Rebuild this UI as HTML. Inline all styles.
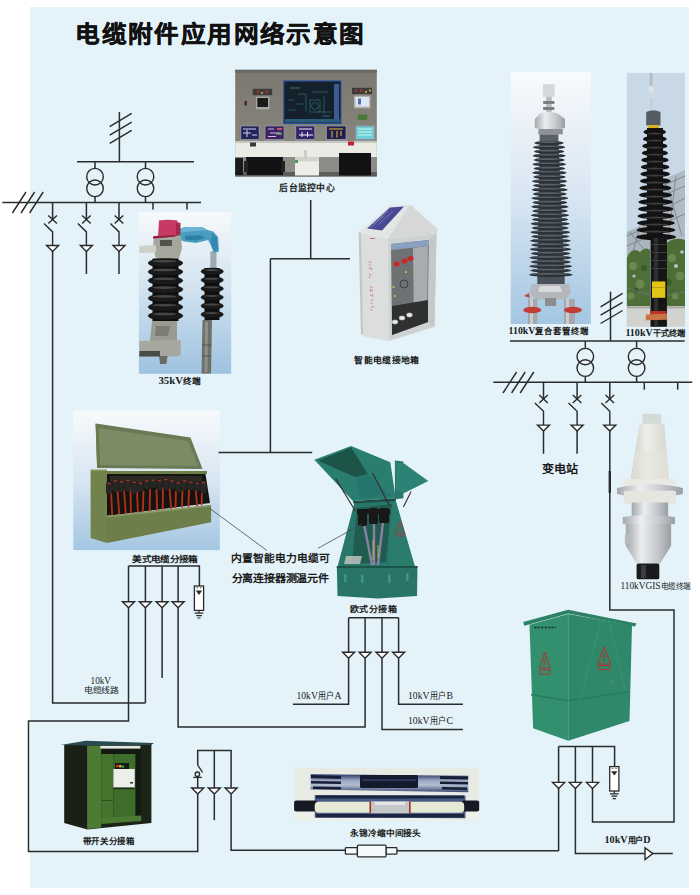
<!DOCTYPE html>
<html lang="zh-CN">
<head>
<meta charset="utf-8">
<style>
html,body{margin:0;padding:0;background:#fff;}
body{width:700px;height:895px;position:relative;overflow:hidden;}
#panel{position:absolute;left:30px;top:7px;width:659px;height:881px;background:#e3f3f9;}
svg{position:absolute;left:0;top:0;}
.t{font-family:"Liberation Serif",serif;font-weight:bold;fill:#1a1a1a;}
</style>
</head>
<body>
<div id="panel"></div>
<svg width="700" height="895" viewBox="0 0 700 895">
<defs>
  <g id="trafo" fill="none" stroke="#2a2a2a" stroke-width="1.4">
    <circle cx="0" cy="0" r="8.3"/>
    <circle cx="0" cy="11.6" r="8.3"/>
  </g>
  <g id="tri"><path d="M-6,0 L6,0 L0,6 Z" fill="#fff" stroke="#2a2a2a" stroke-width="1.4" stroke-linejoin="miter"/></g>
  <g id="feeder" fill="none" stroke="#2a2a2a" stroke-width="1.4">
    <path d="M-4.3,-4 L4.3,4 M-4.3,4 L4.3,-4"/>
    <path d="M-8.6,4 L0,12.4 L0,26"/>
  </g>
  <g id="slash3" fill="none" stroke="#2a2a2a" stroke-width="1.4">
    <path d="M0,21 L13.6,0 M8.6,21 L22.2,0 M17.2,21 L30.8,0"/>
  </g>
  <g id="slashv" fill="none" stroke="#2a2a2a" stroke-width="1.4">
    <path d="M0,13.4 L22,0 M0,21.8 L22,8.9 M0,30.1 L22,17.1"/>
  </g>
  <g id="arrester">
    <rect x="-4.6" y="0" width="9.2" height="24.4" fill="#fff" stroke="#2a2a2a" stroke-width="1.3"/>
    <path d="M-3.2,4.6 L3.2,4.6 L0,9 Z" fill="#2a2a2a"/>
    <path d="M-2.5,1.8 L-1,1.8 M1,1.8 L2.5,1.8" stroke="#2a2a2a" stroke-width="0.8"/>
    <path d="M0,24.4 L0,27 M-4.3,27.2 L4.3,27.2 M-2.9,29.6 L2.9,29.6 M-1.6,32 L1.6,32" stroke="#2a2a2a" stroke-width="1.2" fill="none"/>
  </g>
</defs>


<!-- ===== PHOTOS ===== -->
<defs>
  <linearGradient id="gBlue" x1="0" y1="0" x2="0" y2="1">
    <stop offset="0" stop-color="#f6f9fb"/>
    <stop offset="0.45" stop-color="#d4e4f0"/>
    <stop offset="1" stop-color="#9ec2e0"/>
  </linearGradient>
  <linearGradient id="gBlue2" x1="0" y1="0" x2="0" y2="1">
    <stop offset="0" stop-color="#f8fafc"/>
    <stop offset="0.5" stop-color="#d8e6f2"/>
    <stop offset="1" stop-color="#a4c6e2"/>
  </linearGradient>
  <linearGradient id="gWall" x1="0" y1="0" x2="0" y2="1">
    <stop offset="0" stop-color="#7a786f"/>
    <stop offset="1" stop-color="#8c8a82"/>
  </linearGradient>
  <linearGradient id="gSilver" x1="0" y1="0" x2="1" y2="0">
    <stop offset="0" stop-color="#a4a8ac"/>
    <stop offset="0.35" stop-color="#eceef0"/>
    <stop offset="0.7" stop-color="#c4c8cc"/>
    <stop offset="1" stop-color="#9a9ea2"/>
  </linearGradient>
  <linearGradient id="gCone" x1="0" y1="0" x2="1" y2="0">
    <stop offset="0" stop-color="#c8c8c2"/>
    <stop offset="0.4" stop-color="#f0f0ea"/>
    <stop offset="1" stop-color="#d4d4ce"/>
  </linearGradient>
  <linearGradient id="gShed" x1="0" y1="0" x2="1" y2="0">
    <stop offset="0" stop-color="#202428"/>
    <stop offset="0.5" stop-color="#4a5058"/>
    <stop offset="1" stop-color="#202428"/>
  </linearGradient>
  <linearGradient id="gBlk" x1="0" y1="0" x2="1" y2="0">
    <stop offset="0" stop-color="#0c0c0c"/>
    <stop offset="0.45" stop-color="#3a3a3a"/>
    <stop offset="1" stop-color="#0c0c0c"/>
  </linearGradient>
</defs>

<!-- control room photo -->
<g>
  <rect x="235.2" y="69.8" width="141.6" height="106.6" fill="url(#gWall)"/>
  <rect x="235.2" y="69.8" width="141.6" height="3" fill="#6a6862"/>
  <rect x="283.2" y="80.4" width="58.3" height="43.7" fill="#2a50a0"/>
  <rect x="284.4" y="81.6" width="55.9" height="41.3" fill="#14202c"/>
  <g stroke="#3a8c80" stroke-width="0.6" fill="none" opacity="0.9">
    <path d="M298,94 H306 M312,92 H328 M296,104 H303 M318,112 H332 M306,94 V112 M324,96 V114 M288,100 H294 M288,110 H296"/>
    <path d="M310,100 h10 v12 h-10 z"/>
    <circle cx="315" cy="106" r="3.5"/>
    <path d="M290,88 H300" stroke="#70c070"/><path d="M322,116 H330" stroke="#4ca0c0"/>
  </g>
  <rect x="334" y="84" width="5" height="36" fill="#3c5c8c"/>
  <rect x="285" y="119" width="55" height="3.5" fill="#2c5c7c"/>
  <rect x="252.7" y="88.8" width="19.5" height="6.4" fill="#3e3c3a"/>
  <circle cx="258" cy="91.5" r="1" fill="#e03020"/><circle cx="262" cy="93" r="0.9" fill="#e0c020"/><circle cx="267" cy="91.5" r="1" fill="#e03020"/>
  <rect x="255.9" y="96.7" width="13.5" height="12.6" fill="#a8a8a4"/>
  <rect x="257.3" y="98" width="10.7" height="9" fill="#1a1a1a"/>
  <rect x="244.5" y="101" width="2.5" height="4.5" fill="#5a2020"/>
  <rect x="352" y="87.8" width="20" height="6.3" fill="#3e3c3a"/>
  <circle cx="356" cy="90.5" r="1" fill="#e03020"/><circle cx="361" cy="90.5" r="1" fill="#e03020"/><circle cx="366" cy="92" r="0.9" fill="#e0d020"/><circle cx="370" cy="90.5" r="0.9" fill="#f0e040"/>
  <rect x="354" y="95.6" width="16.5" height="12.7" fill="#b0b0ac"/>
  <rect x="355.4" y="97" width="13.7" height="9.6" fill="#dce8f8"/>
  <rect x="358" y="98.5" width="3" height="6" fill="#5070b0"/>
  <rect x="357.8" y="114.6" width="9.5" height="5.3" fill="#4a7a3a"/>
  <!-- monitors -->
  <g fill="#8e8e96">
    <rect x="240" y="125.2" width="19.9" height="15.8"/>
    <rect x="264.3" y="125.2" width="20.6" height="15.8"/>
    <rect x="295" y="125.2" width="20.5" height="15.8"/>
    <rect x="325.7" y="125.2" width="21.1" height="15.8"/>
    <rect x="355" y="125.2" width="20.3" height="15.8"/>
  </g>
  <rect x="241.2" y="126.4" width="17.5" height="12.6" fill="#24245a"/>
  <rect x="265.5" y="126.4" width="18.2" height="12.6" fill="#3a2462"/>
  <rect x="296.2" y="126.4" width="18.1" height="12.6" fill="#34246a"/>
  <rect x="326.9" y="126.4" width="18.7" height="12.6" fill="#1e1e50"/>
  <rect x="356.2" y="126.4" width="17.9" height="12.6" fill="#70ccd4"/>
  <g stroke-width="1" fill="none">
    <path d="M243,129 H256 M243,133 H251 M247,130 V137 M252,135 H257" stroke="#d0d0f0"/>
    <path d="M268,129 H274 M277,129 H282 M270,133 H281 M268,136.5 H276" stroke="#e8b0e8"/>
    <path d="M278,128.8 H282.5" stroke="#f04040"/><path d="M276,134 H282" stroke="#60e060"/>
    <path d="M299,129 H312 M302,132 V137 M307.5,132 V137 M299,135 H313" stroke="#f0f0ff"/>
    <path d="M329,129 H343 M332,131 V137.5 M337,131 V137.5 M341,131 V136" stroke="#f0c030"/>
    <path d="M358,129 H372 M358,132 H372 M358,135 H372" stroke="#c0fff0"/>
  </g>
  <g fill="#b8b8c0"><rect x="246" y="141" width="8" height="1.5"/><rect x="271" y="141" width="8" height="1.5"/><rect x="301" y="141" width="8" height="1.5"/><rect x="332" y="141" width="8" height="1.5"/><rect x="361" y="141" width="8" height="1.5"/></g>
  <!-- desk -->
  <rect x="235.2" y="141" width="141.6" height="16" fill="#ebebe6"/>
  <rect x="235.2" y="141" width="141.6" height="2" fill="#c8c8c2"/>
  <rect x="250" y="142.5" width="6" height="4" fill="#3a3a3a"/>
  <rect x="348" y="141.5" width="6" height="4" fill="#c02030"/>
  <rect x="235.2" y="157" width="141.6" height="19.4" fill="#8e8c86"/>
  <rect x="235.2" y="172" width="141.6" height="4.4" fill="#5e5c58"/>
  <!-- chairs -->
  <path d="M246,157 H283 V175 H247 Z" fill="#121214"/>
  <path d="M244,161 H248 V172 H244 Z M281,161 H285 V172 H281 Z" fill="#222"/>
  <path d="M339,153 H371 V175.5 H339 Z" fill="#121214"/>
  <path d="M235.2,158 H243 V175 H235.2 Z" fill="#1a1a1c"/>
  <!-- printer -->
  <rect x="295" y="157.3" width="24" height="18.2" fill="#ececea"/>
  <rect x="295" y="157.3" width="24" height="4" fill="#d0d4c8"/>
  <rect x="295" y="160" width="3" height="3" fill="#40a060"/>
  <rect x="304" y="150" width="3" height="8" fill="#c8ccd0"/>
</g>

<!-- 35kV photo -->
<g>
  <rect x="138.9" y="212.2" width="92.3" height="161.6" fill="url(#gBlue)"/>
  <!-- right cable -->
  <path d="M202.5,320 L212,320 L211,373.6 L201.5,373.6 Z" fill="#6e706a"/>
  <path d="M205,322 L208,322 L207.5,372 L204.5,372 Z" fill="#8e9088"/><path d="M202,345 H211.5 M202,356 H211" stroke="#4a4c48" stroke-width="0.8"/>
  <path d="M210.3,251.4 H216.5 V269 H210.3 Z" fill="#9eaab2"/>
  <!-- right insulator -->
  <rect x="204.5" y="268" width="15" height="52" fill="#101010"/>
  <g fill="#1a1a1a" stroke="#0a0a0a" stroke-width="0.5">
    <ellipse cx="212.2" cy="271.5" rx="11.2" ry="3.4"/>
    <ellipse cx="212.2" cy="280.1" rx="11.2" ry="3.4"/>
    <ellipse cx="212.2" cy="288.7" rx="11.2" ry="3.4"/>
    <ellipse cx="212.2" cy="297.3" rx="11.2" ry="3.4"/>
    <ellipse cx="212.2" cy="305.9" rx="11.2" ry="3.4"/>
    <ellipse cx="212.2" cy="314.5" rx="11.2" ry="3.4"/>
  </g>
  <g fill="#4e4e4e" opacity="0.85"><ellipse cx="211.5" cy="270.1" rx="7.5" ry="1"/><ellipse cx="211.5" cy="278.7" rx="7.5" ry="1"/><ellipse cx="211.5" cy="287.3" rx="7.5" ry="1"/><ellipse cx="211.5" cy="295.9" rx="7.5" ry="1"/><ellipse cx="211.5" cy="304.5" rx="7.5" ry="1"/><ellipse cx="211.5" cy="313.1" rx="7.5" ry="1"/></g>
  <!-- blue connector -->
  <path d="M173.9,231.4 L184.6,227.1 L201.7,227.1 L207.4,230 L213.1,231.4 L218.1,237.1 L218.9,251.4 L213.9,252.9 L210.3,244.3 L208.1,240 L196,242.9 L184.6,241.4 L174.6,237.9 Z" fill="#4a9cc0"/>
  <path d="M184.6,227.1 L201.7,227.1 L207.4,230 L190,231.5 L176,233 Z" fill="#6ab4d4"/>
  <path d="M185,236 L200,235 L205,238 L196,240.5 L185,239.5 Z" fill="#2e7ea6"/>
  <path d="M212,233 L217,238 L217.5,250 L214,251 L211,243 Z" fill="#3288b2"/>
  <!-- grey fitting -->
  <path d="M154,236 L181,236 L182,248 L179,258.5 L156,258.5 L153,248 Z" fill="#a4a89c"/>
  <path d="M160,240 L172,240 L172,246 L160,246 Z" fill="#50544c"/>
  <path d="M139.4,246 L156,245 L156,252.7 L139.4,253 Z" fill="#ccd0c8"/>
  <!-- red cap -->
  <path d="M159,220.5 Q168,219 177.5,220.5 L177.5,222.5 L180.3,223 L180.3,234.5 L175.3,236.4 L153.1,238.6 L153.1,236.4 L158.1,235.5 Z" fill="#c63a64"/>
  <path d="M176,222.5 L180.3,223 L180.3,234.5 L176,235.5 Z" fill="#a42a4c"/>
  <path d="M153.1,236.4 L175.3,235 L175.3,236.4 L153.1,238.6 Z" fill="#8a2040"/>
  <!-- big insulator -->
  <rect x="152.5" y="258.5" width="26" height="62.5" fill="#101010"/>
  <g fill="#1a1a1a" stroke="#0a0a0a" stroke-width="0.6">
    <ellipse cx="165.5" cy="263.0" rx="17.3" ry="4.3"/>
    <ellipse cx="165.5" cy="271.8" rx="17.3" ry="4.3"/>
    <ellipse cx="165.5" cy="280.6" rx="17.3" ry="4.3"/>
    <ellipse cx="165.5" cy="289.4" rx="17.3" ry="4.3"/>
    <ellipse cx="165.5" cy="298.2" rx="17.3" ry="4.3"/>
    <ellipse cx="165.5" cy="307.0" rx="17.3" ry="4.3"/>
    <ellipse cx="165.5" cy="315.8" rx="17.3" ry="4.3"/>
  </g>
  <g fill="#4e4e4e" opacity="0.85"><ellipse cx="164.5" cy="261.2" rx="12" ry="1.3"/><ellipse cx="164.5" cy="270.0" rx="12" ry="1.3"/><ellipse cx="164.5" cy="278.8" rx="12" ry="1.3"/><ellipse cx="164.5" cy="287.6" rx="12" ry="1.3"/><ellipse cx="164.5" cy="296.4" rx="12" ry="1.3"/><ellipse cx="164.5" cy="305.2" rx="12" ry="1.3"/><ellipse cx="164.5" cy="314.0" rx="12" ry="1.3"/></g>
  <!-- lower bracket -->
  <path d="M152,321 L177,321 L177,341 L150,341 Z" fill="#9a9c94"/>
  <path d="M156,326 L170,326 L168,336 L155,336 Z" fill="#7c7e76"/>
  <path d="M139.4,341 L180.7,340 L180.7,355 L176,356.5 L139.4,356.5 Z" fill="#a6a8a0"/>
  <path d="M139.4,351 L160,351 L160,356.5 L139.4,356.5 Z" fill="#4a4c48"/>
  <path d="M159,356 L167.5,356 L166.5,364 L160,364 Z" fill="#6a6c64"/>
</g>

<!-- 110kV composite photo -->
<g>
  <rect x="510.7" y="71.8" width="80.1" height="252.2" fill="url(#gBlue2)"/>
  <rect x="542.9" y="84.2" width="11.8" height="12.6" fill="#d4d8dc"/>
  <rect x="546.1" y="96.8" width="5.6" height="17" fill="#b8bcc0"/>
  <rect x="543" y="101" width="11.5" height="3" rx="1" fill="#7a7e82"/>
  <rect x="543" y="107" width="11.5" height="3" rx="1" fill="#7a7e82"/>
  <path d="M540,113.7 Q549,110 558,113.7 L565,119 L565,128 Q549,132 534.8,128 L534.8,119 Z" fill="url(#gSilver)"/>
  <rect x="538.4" y="129" width="24.4" height="5.4" fill="#8e9296"/>
  <rect x="539.6" y="134.4" width="18.8" height="7" fill="#5a6068"/>
  <path d="M539.6,141 L558.4,141 L564.5,277 L537.3,277 Z" fill="#3a4149"/>
  <g fill="#2c3238">
    <ellipse cx="549.0" cy="143.0" rx="14.6" ry="2.1"/>
    <ellipse cx="549.1" cy="147.2" rx="16.0" ry="2.1"/>
    <ellipse cx="549.1" cy="151.5" rx="15.0" ry="2.1"/>
    <ellipse cx="549.2" cy="155.8" rx="16.4" ry="2.1"/>
    <ellipse cx="549.3" cy="160.0" rx="15.4" ry="2.1"/>
    <ellipse cx="549.3" cy="164.2" rx="16.7" ry="2.1"/>
    <ellipse cx="549.4" cy="168.5" rx="15.7" ry="2.1"/>
    <ellipse cx="549.4" cy="172.8" rx="17.1" ry="2.1"/>
    <ellipse cx="549.5" cy="177.0" rx="16.1" ry="2.1"/>
    <ellipse cx="549.6" cy="181.2" rx="17.5" ry="2.1"/>
    <ellipse cx="549.6" cy="185.5" rx="16.5" ry="2.1"/>
    <ellipse cx="549.7" cy="189.8" rx="17.9" ry="2.1"/>
    <ellipse cx="549.7" cy="194.0" rx="16.9" ry="2.1"/>
    <ellipse cx="549.8" cy="198.2" rx="18.3" ry="2.1"/>
    <ellipse cx="549.9" cy="202.5" rx="17.3" ry="2.1"/>
    <ellipse cx="549.9" cy="206.8" rx="18.6" ry="2.1"/>
    <ellipse cx="550.0" cy="211.0" rx="17.6" ry="2.1"/>
    <ellipse cx="550.0" cy="215.2" rx="19.0" ry="2.1"/>
    <ellipse cx="550.1" cy="219.5" rx="18.0" ry="2.1"/>
    <ellipse cx="550.2" cy="223.8" rx="19.4" ry="2.1"/>
    <ellipse cx="550.2" cy="228.0" rx="18.4" ry="2.1"/>
    <ellipse cx="550.3" cy="232.2" rx="19.8" ry="2.1"/>
    <ellipse cx="550.3" cy="236.5" rx="18.8" ry="2.1"/>
    <ellipse cx="550.4" cy="240.8" rx="20.2" ry="2.1"/>
    <ellipse cx="550.5" cy="245.0" rx="19.2" ry="2.1"/>
    <ellipse cx="550.5" cy="249.2" rx="20.6" ry="2.1"/>
    <ellipse cx="550.6" cy="253.5" rx="19.5" ry="2.1"/>
    <ellipse cx="550.6" cy="257.8" rx="20.9" ry="2.1"/>
    <ellipse cx="550.7" cy="262.0" rx="19.9" ry="2.1"/>
    <ellipse cx="550.7" cy="266.2" rx="21.3" ry="2.1"/>
    <ellipse cx="550.8" cy="270.5" rx="20.3" ry="2.1"/>
    <ellipse cx="550.9" cy="274.8" rx="21.7" ry="2.1"/>
  </g>
  <g fill="#5e666e" opacity="0.9"><ellipse cx="548.0" cy="142.1" rx="11.6" ry="0.8"/><ellipse cx="548.1" cy="146.3" rx="13.0" ry="0.8"/><ellipse cx="548.1" cy="150.6" rx="12.0" ry="0.8"/><ellipse cx="548.2" cy="154.8" rx="13.4" ry="0.8"/><ellipse cx="548.3" cy="159.1" rx="12.4" ry="0.8"/><ellipse cx="548.3" cy="163.3" rx="13.7" ry="0.8"/><ellipse cx="548.4" cy="167.6" rx="12.7" ry="0.8"/><ellipse cx="548.4" cy="171.8" rx="14.1" ry="0.8"/><ellipse cx="548.5" cy="176.1" rx="13.1" ry="0.8"/><ellipse cx="548.6" cy="180.3" rx="14.5" ry="0.8"/><ellipse cx="548.6" cy="184.6" rx="13.5" ry="0.8"/><ellipse cx="548.7" cy="188.8" rx="14.9" ry="0.8"/><ellipse cx="548.7" cy="193.1" rx="13.9" ry="0.8"/><ellipse cx="548.8" cy="197.3" rx="15.3" ry="0.8"/><ellipse cx="548.9" cy="201.6" rx="14.3" ry="0.8"/><ellipse cx="548.9" cy="205.8" rx="15.6" ry="0.8"/><ellipse cx="549.0" cy="210.1" rx="14.6" ry="0.8"/><ellipse cx="549.0" cy="214.3" rx="16.0" ry="0.8"/><ellipse cx="549.1" cy="218.6" rx="15.0" ry="0.8"/><ellipse cx="549.2" cy="222.8" rx="16.4" ry="0.8"/><ellipse cx="549.2" cy="227.1" rx="15.4" ry="0.8"/><ellipse cx="549.3" cy="231.3" rx="16.8" ry="0.8"/><ellipse cx="549.3" cy="235.6" rx="15.8" ry="0.8"/><ellipse cx="549.4" cy="239.8" rx="17.2" ry="0.8"/><ellipse cx="549.5" cy="244.1" rx="16.2" ry="0.8"/><ellipse cx="549.5" cy="248.3" rx="17.6" ry="0.8"/><ellipse cx="549.6" cy="252.6" rx="16.5" ry="0.8"/><ellipse cx="549.6" cy="256.9" rx="17.9" ry="0.8"/><ellipse cx="549.7" cy="261.1" rx="16.9" ry="0.8"/><ellipse cx="549.7" cy="265.4" rx="18.3" ry="0.8"/><ellipse cx="549.8" cy="269.6" rx="17.3" ry="0.8"/><ellipse cx="549.9" cy="273.9" rx="18.7" ry="0.8"/></g>
  <rect x="537.3" y="277" width="27.4" height="7" fill="#4a5058"/>
  <path d="M532,284 L569,284 L571,292 L566,299.5 L535,299.5 L529.5,292 Z" fill="#b4b8bc"/>
  <path d="M540,286 L560,286 L562,292 L538,292 Z" fill="#d8dadc"/>
  <rect x="545.1" y="298" width="11" height="8" fill="#8a8e90"/>
  <rect x="528" y="299" width="9.3" height="25" fill="#a4a8ac"/>
  <rect x="564" y="299" width="10.9" height="25" fill="#a4a8ac"/>
  <rect x="530" y="299" width="3" height="25" fill="#c8ccd0"/>
  <rect x="566" y="299" width="3" height="25" fill="#c8ccd0"/>
  <ellipse cx="532.2" cy="310" rx="9" ry="3.2" fill="#c23c38"/>
  <ellipse cx="572.9" cy="310" rx="9" ry="3.2" fill="#c23c38"/>
  <path d="M524,296 L529,293 L530,298 Z" fill="#c84040"/>
</g>

<!-- 110kV dry photo -->
<g>
  <clipPath id="cpDry"><rect x="626.6" y="72.7" width="58.4" height="254"/></clipPath>
  <g clip-path="url(#cpDry)">
  <rect x="626.6" y="72.7" width="58.4" height="254" fill="#c8d8e6"/>
  <!-- lattice -->
  <path d="M626.6,232 L650,222 L650,250 L626.6,256 Z" fill="#a4acb4" opacity="0.8"/>
  <path d="M662,180 L685,170 L685,240 L662,246 Z" fill="#aab2ba" opacity="0.75"/>
  <g stroke="#7c848c" stroke-width="0.9" fill="none">
    <path d="M662,186 L685,176 M662,196 L685,186 M662,210 L685,198 M662,224 L685,214 M666,182 L682,236 M676,176 L668,240"/>
    <path d="M626.6,236 L650,226 M626.6,246 L650,236 M630,232 L646,252 M640,226 L632,256"/>
  </g>
  <!-- trees -->
  <path d="M626.6,258 Q632,246 640,252 Q646,246 650,250 L650,306 L626.6,306 Z" fill="#4e7038"/>
  <path d="M664,246 Q672,236 685,240 L685,306 L664,306 Z" fill="#4c6e36"/>
  <g fill="#6e8e52" opacity="0.85">
    <circle cx="633" cy="266" r="4"/><circle cx="640" cy="284" r="4.5"/><circle cx="672" cy="258" r="4"/><circle cx="680" cy="276" r="4.5"/><circle cx="631" cy="296" r="3.5"/><circle cx="675" cy="296" r="3.5"/>
  </g>
  <g fill="#3a5a2a" opacity="0.9">
    <circle cx="644" cy="268" r="3"/><circle cx="668" cy="282" r="3.5"/><circle cx="636" cy="290" r="2.5"/>
  </g>
  <g fill="#c8d4dc" opacity="0.85">
    <circle cx="676" cy="266" r="2"/><circle cx="634" cy="276" r="1.6"/><circle cx="682" cy="252" r="1.8"/>
  </g>
  <path d="M626.6,288 Q655,300 685,292" stroke="#707070" stroke-width="1" fill="none"/>
  <!-- wall -->
  <rect x="626.6" y="306.4" width="58.4" height="20.3" fill="#d2d2ce"/>
  <rect x="626.6" y="306.4" width="58.4" height="2" fill="#a8aaa6"/>
  <!-- conductor -->
  <rect x="649.6" y="72.7" width="3" height="14" fill="#b8bcc0"/>
  <rect x="648.7" y="86" width="4.5" height="6" rx="1.5" fill="#e0e2e4"/>
  <circle cx="651" cy="96" r="2.3" fill="none" stroke="#d8dadc" stroke-width="1.2"/>
  <rect x="650.2" y="98" width="2" height="11" fill="#c8cacc"/>
  <!-- cap -->
  <path d="M646.2,112 Q653,108.5 660.5,112 L660.5,125.5 L646.2,125.5 Z" fill="#545c64"/>
  <rect x="648" y="125" width="11" height="3.6" fill="#d8b020"/>
  <!-- sheds -->
  <rect x="647" y="128" width="16" height="110" fill="#151515"/>
  <g fill="#121212">
    <ellipse cx="654.7" cy="132.0" rx="11.3" ry="3.3"/>
    <ellipse cx="654.8" cy="139.0" rx="11.9" ry="3.3"/>
    <ellipse cx="654.8" cy="146.0" rx="12.5" ry="3.3"/>
    <ellipse cx="654.9" cy="153.0" rx="13.0" ry="3.3"/>
    <ellipse cx="655.0" cy="160.0" rx="13.6" ry="3.3"/>
    <ellipse cx="655.1" cy="167.0" rx="14.2" ry="3.3"/>
    <ellipse cx="655.2" cy="174.0" rx="14.8" ry="3.3"/>
    <ellipse cx="655.3" cy="181.0" rx="15.3" ry="3.3"/>
    <ellipse cx="655.4" cy="188.0" rx="15.9" ry="3.3"/>
    <ellipse cx="655.5" cy="195.0" rx="16.5" ry="3.3"/>
    <ellipse cx="655.6" cy="202.0" rx="17.1" ry="3.3"/>
    <ellipse cx="655.7" cy="209.0" rx="17.6" ry="3.3"/>
    <ellipse cx="655.8" cy="216.0" rx="18.2" ry="3.3"/>
    <ellipse cx="655.9" cy="223.0" rx="18.8" ry="3.3"/>
    <ellipse cx="656.0" cy="230.0" rx="19.3" ry="3.3"/>
    <ellipse cx="656.1" cy="237.0" rx="19.9" ry="3.3"/>
  </g>
  <g fill="#4a4a4a" opacity="0.75"><ellipse cx="654.7" cy="133.6" rx="7.3" ry="1"/><ellipse cx="654.8" cy="140.6" rx="7.7" ry="1"/><ellipse cx="654.9" cy="147.6" rx="8.1" ry="1"/><ellipse cx="655.0" cy="154.6" rx="8.5" ry="1"/><ellipse cx="655.1" cy="161.6" rx="8.8" ry="1"/><ellipse cx="655.2" cy="168.6" rx="9.2" ry="1"/><ellipse cx="655.2" cy="175.6" rx="9.6" ry="1"/><ellipse cx="655.3" cy="182.6" rx="10.0" ry="1"/><ellipse cx="655.4" cy="189.6" rx="10.4" ry="1"/><ellipse cx="655.5" cy="196.6" rx="10.7" ry="1"/><ellipse cx="655.6" cy="203.6" rx="11.1" ry="1"/><ellipse cx="655.7" cy="210.6" rx="11.5" ry="1"/><ellipse cx="655.8" cy="217.6" rx="11.9" ry="1"/><ellipse cx="655.9" cy="224.6" rx="12.3" ry="1"/><ellipse cx="656.0" cy="231.6" rx="12.7" ry="1"/></g>
  <!-- cable -->
  <rect x="650.5" y="238" width="16.4" height="90" fill="#151515"/>
  <rect x="654" y="238" width="4" height="90" fill="#2e2e2e"/>
  <g fill="#3a3a3a"><rect x="650.5" y="244" width="16.4" height="1"/><rect x="650.5" y="252" width="16.4" height="1"/><rect x="650.5" y="260" width="16.4" height="1"/><rect x="650.5" y="268" width="16.4" height="1"/></g>
  <rect x="652" y="281.4" width="13.3" height="16.4" fill="#e2c414"/>
  <rect x="652" y="287" width="13.3" height="1" fill="#c0a010"/>
  <path d="M645.8,314.5 L666.9,313.2 L666.9,319.7 L645.8,320.2 Z" fill="#c87446"/>
  <rect x="650" y="311" width="16" height="3" fill="#c03028"/>
  </g>
</g>

<!-- 美式 photo -->
<g>
  <rect x="73.3" y="410.4" width="146.5" height="139.7" fill="url(#gBlue2)"/>
  <!-- lid -->
  <path d="M95.6,423.5 L190.5,437.6 L202.5,469 L97.1,468 Z" fill="#6a7a54"/>
  <path d="M98.5,428 L188,441 L198,466 L100,465 Z" fill="#7b8b66"/>
  <path d="M95.6,423.5 L98.5,428 L100,465 L97.1,468 Z" fill="#6a7a4a"/>
  <!-- body left side -->
  <path d="M90.6,469.7 L107,469.7 L107,543 L90.6,538 Z" fill="#72824c"/>
  <!-- interior -->
  <path d="M107,471 L205,471 L210,503 L107,516 Z" fill="#141410"/>
  <rect x="107" y="471" width="100" height="3" fill="#6e7e4a"/>
  <rect x="110" y="476" width="92" height="6" fill="#2a2a22"/>
  <g>
  <path d="M111.0,489.5 L112.2,515.5" stroke="#b8301c" stroke-width="1.8"/>
  <path d="M117.5,490.2 L119.3,514.8" stroke="#b8301c" stroke-width="1.8"/>
  <path d="M124.0,490.0 L125.8,514.1" stroke="#b8301c" stroke-width="1.8"/>
  <path d="M130.5,487.1 L130.9,513.3" stroke="#b8301c" stroke-width="1.8"/>
  <path d="M137.0,490.8 L137.9,512.6" stroke="#b8301c" stroke-width="1.8"/>
  <path d="M143.5,490.6 L142.8,511.9" stroke="#b8301c" stroke-width="1.8"/>
  <path d="M150.0,488.9 L149.7,511.2" stroke="#b8301c" stroke-width="1.8"/>
  <path d="M156.5,489.2 L157.2,510.5" stroke="#b8301c" stroke-width="1.8"/>
  <path d="M163.0,487.1 L162.7,509.7" stroke="#b8301c" stroke-width="1.8"/>
  <path d="M169.5,488.1 L171.2,509.0" stroke="#b8301c" stroke-width="1.8"/>
  <path d="M176.0,490.1 L175.5,508.3" stroke="#b8301c" stroke-width="1.8"/>
  <path d="M182.5,490.2 L181.9,507.6" stroke="#b8301c" stroke-width="1.8"/>
  <path d="M189.0,489.5 L188.4,506.9" stroke="#b8301c" stroke-width="1.8"/>
  <path d="M195.5,487.0 L197.1,506.1" stroke="#b8301c" stroke-width="1.8"/>
  <path d="M202.0,487.8 L201.6,505.4" stroke="#b8301c" stroke-width="1.8"/>
  <rect x="106.0" y="481.9" width="6" height="12.5" rx="2" fill="#262624"/>
  <rect x="107.5" y="482.9" width="3" height="1.2" fill="#c83020"/>
  <rect x="112.3" y="479.2" width="6" height="12.8" rx="2" fill="#262624"/>
  <rect x="113.8" y="480.2" width="3" height="1.2" fill="#c83020"/>
  <rect x="118.6" y="480.2" width="6" height="11.7" rx="2" fill="#262624"/>
  <rect x="120.1" y="481.2" width="3" height="1.2" fill="#c83020"/>
  <rect x="124.9" y="478.8" width="6" height="12.8" rx="2" fill="#262624"/>
  <rect x="126.4" y="479.8" width="3" height="1.2" fill="#c83020"/>
  <rect x="131.2" y="480.8" width="6" height="12.9" rx="2" fill="#262624"/>
  <rect x="132.7" y="481.8" width="3" height="1.2" fill="#c83020"/>
  <rect x="137.5" y="481.6" width="6" height="10.2" rx="2" fill="#262624"/>
  <rect x="139.0" y="482.6" width="3" height="1.2" fill="#c83020"/>
  <rect x="143.8" y="479.4" width="6" height="9.7" rx="2" fill="#262624"/>
  <rect x="145.3" y="480.4" width="3" height="1.2" fill="#c83020"/>
  <rect x="150.1" y="478.6" width="6" height="9.3" rx="2" fill="#262624"/>
  <rect x="151.6" y="479.6" width="3" height="1.2" fill="#c83020"/>
  <rect x="156.4" y="479.2" width="6" height="11.4" rx="2" fill="#262624"/>
  <rect x="157.9" y="480.2" width="3" height="1.2" fill="#c83020"/>
  <rect x="162.7" y="478.0" width="6" height="11.7" rx="2" fill="#262624"/>
  <rect x="164.2" y="479.0" width="3" height="1.2" fill="#c83020"/>
  <rect x="169.0" y="479.4" width="6" height="10.2" rx="2" fill="#262624"/>
  <rect x="170.5" y="480.4" width="3" height="1.2" fill="#c83020"/>
  <rect x="175.3" y="481.3" width="6" height="10.9" rx="2" fill="#262624"/>
  <rect x="176.8" y="482.3" width="3" height="1.2" fill="#c83020"/>
  <rect x="181.6" y="479.3" width="6" height="10.9" rx="2" fill="#262624"/>
  <rect x="183.1" y="480.3" width="3" height="1.2" fill="#c83020"/>
  <rect x="187.9" y="480.8" width="6" height="9.2" rx="2" fill="#262624"/>
  <rect x="189.4" y="481.8" width="3" height="1.2" fill="#c83020"/>
  <rect x="194.2" y="481.9" width="6" height="9.1" rx="2" fill="#262624"/>
  <rect x="195.7" y="482.9" width="3" height="1.2" fill="#c83020"/>
  <rect x="200.5" y="481.0" width="6" height="12.4" rx="2" fill="#262624"/>
  <rect x="202.0" y="482.0" width="3" height="1.2" fill="#c83020"/>
  </g>
  <!-- front panel -->
  <path d="M107,515.7 L211.1,504.9 L211.1,522.3 L107,543 Z" fill="#6e7e4a"/>
  <path d="M107,515.7 L211.1,504.9 L211.1,506.5 L107,517.5 Z" fill="#8a9a66"/>
  <path d="M90.6,469.7 L107,469.7 L107,471 L90.6,471 Z" fill="#8a9a66"/>
</g>

<!-- 欧式 cabinet -->
<g>
  <!-- body -->
  <path d="M354.4,503 L395.2,499.2 L414.7,566 L337.7,566 Z" fill="#29766a"/>
  <path d="M395.2,499.2 L414.7,566 L390,566 L384,510 Z" fill="#2c7c6e"/>
  <path d="M336.8,566 L417.5,566 L417,596 L378,598.6 L337.5,596 Z" fill="#287468"/>
  <path d="M336.8,566 L417.5,566 L417.5,568 L336.8,568 Z" fill="#1c5448"/>
  <g fill="#4a9a84" opacity="0.8">
    <rect x="344" y="574" width="2.5" height="8"/><rect x="361" y="575" width="2.5" height="8"/><rect x="388" y="575" width="2.5" height="8"/><rect x="406" y="573" width="2.5" height="8"/>
  </g>
  <!-- interior cables -->
  <path d="M357,508 L392,504 L386,562 L352,564 Z" fill="#1a4a40" opacity="0.6"/>
  <g stroke="#8a80a0" stroke-width="2.4">
    <path d="M364,524 L372,565"/><path d="M374,522 L374,565"/><path d="M383,522 L378,565"/>
  </g>
  <g stroke="#d0c040" stroke-width="0.8"><path d="M373,540 V560"/><path d="M378,545 V558"/></g>
  <g fill="#181818">
    <rect x="358" y="510" width="9" height="16" rx="2"/>
    <rect x="369" y="508" width="9" height="16" rx="2"/>
    <rect x="379" y="508" width="10" height="15" rx="2"/>
    <rect x="357" y="509" width="33" height="5"/>
  </g>
  <path d="M346,556 L362,556 L360,564 L344,564 Z" fill="#c8c8c4" opacity="0.8"/>
  <!-- red logo -->
  <path d="M400,522 L405,534 L395,534 Z" fill="none" stroke="#c03030" stroke-width="0.9"/>
  <path d="M398,536 H403" stroke="#c03030" stroke-width="0.9"/>
  <!-- posts -->
  <path d="M394.9,460.6 L403.4,461.5 L403.4,498.3 L394.9,499.2 Z" fill="#29766a"/>
  <!-- right lid -->
  <path d="M395.7,463.1 L403.4,463.1 L428.3,481.1 L404.3,493.1 L395.7,491.4 Z" fill="#2c8274"/>
  <!-- left lid -->
  <path d="M314.3,459.7 L351.1,446 L390.3,462.3 L395.7,498.3 L352.9,500.9 Z" fill="#2a7e70"/>
  <path d="M318,460.8 L351.1,447.5 L368,474 L355,477 Z" fill="#1c5448"/>
  <path d="M355,477 L368,474 L392,496 L360,498 Z" fill="#26726a" opacity="0.6"/>
  <path d="M352.9,500.9 L395.7,498.3 L395.7,501 L353.5,503.5 Z" fill="#1a4e44"/>
  <g stroke="#3a2a2a" stroke-width="1.1">
    <path d="M335.7,478.6 L355.4,511.1"/>
    <path d="M372.5,473 L389.7,506"/>
    <path d="M411.1,491.4 L403.4,506.9"/>
  </g>
</g>

<!-- grounding box -->
<g>
  <!-- left face -->
  <path d="M358.7,232 L388,239 L388.5,341 L366,337 L361,334 Z" fill="#dcdedc"/>
  <path d="M358.7,232 L361,232.5 L363,335 L361,334 Z" fill="#c4c6c4"/>
  <!-- front face frame -->
  <path d="M388,239 L436.5,233 L434.5,327 L388.5,341 Z" fill="#cfd2d2"/>
  <!-- interior -->
  <path d="M391,244 L429,240 L428,322 L392,335 Z" fill="#6e7274"/>
  <path d="M391,244 L429,240 L429,246 L391,250 Z" fill="#8aa0c0"/>
  <path d="M413,248 L428,246 L427,320 L414,325 Z" fill="#a8acae"/>
  <path d="M392,306 L428,300 L428,322 L392,335 Z" fill="#2e3032"/>
  <g fill="#c82828">
    <ellipse cx="396.5" cy="264" rx="3.2" ry="2.6"/><ellipse cx="404.5" cy="261" rx="3.2" ry="2.6"/><ellipse cx="410.5" cy="258.5" rx="3" ry="2.4"/>
  </g>
  <g fill="#e8e8e8" stroke="#888" stroke-width="0.4">
    <ellipse cx="395" cy="322" rx="3" ry="2.2"/><ellipse cx="402" cy="318" rx="3" ry="2.2"/><ellipse cx="409.5" cy="315" rx="3" ry="2.2"/>
  </g>
  <circle cx="404" cy="284" r="4" fill="none" stroke="#333" stroke-width="0.8"/>
  <g fill="#d8d030"><circle cx="393.5" cy="287" r="1"/><circle cx="406" cy="272" r="1"/><circle cx="395" cy="296" r="1"/></g>
  <!-- right edge -->
  <path d="M429,240 L436.5,233 L434.5,327 L428,322 Z" fill="#c4c8c8"/>
  <!-- roof -->
  <path d="M358.7,232 L390,205.5 L410,204.6 L437.5,229 L436.5,233 L388,239 Z" fill="#e4e6e6"/>
  <path d="M388,239 L410,204.6 L437.5,229 L436.5,233 Z" fill="#d6d8d8"/>
  <path d="M367,228.5 L390,207.5 L404,206.5 L382,230.5 Z" fill="#4a4a94"/>
  <g stroke="#c8c8e8" stroke-width="0.5" opacity="0.7"><path d="M373,224 L388,211 M378,225 L393,211 M370,228 L384,216"/></g>
  <!-- red characters -->
  <g fill="none" stroke="#d04a7a" stroke-width="0.7" opacity="0.85">
    <path d="M368.5,262 h3 M369,264 l2,2 M368.5,268 h3 v2 M369,274 l2.5,1 M369.5,276 v2"/>
    <path d="M370,287 h3 M370.5,289 v3 M372,289 v3 M370,295 h3 l-1,2 M371,300 h2.5 M370.5,302 l2,2 M371,307 h3 M371.5,309 v2"/>
  </g>
  <path d="M370,238.5 h5" stroke="#d04a7a" stroke-width="0.8"/>
</g>
</g>

<!-- GIS termination -->
<g>
  <rect x="642.5" y="413.9" width="18.7" height="10" fill="#d4dad6"/>
  <path d="M639.6,423.8 L664.2,423.8 L669.1,478.9 L630.7,478.9 Z" fill="url(#gCone)"/>
  <path d="M636,450 L666.5,450 L669.1,478.9 L630.7,478.9 Z" fill="#e4e4de" opacity="0.6"/>
  <rect x="622.8" y="478.9" width="53.2" height="6.9" rx="2" fill="#eaeae4"/>
  <path d="M617,488 Q650,480 682.9,488 L682.9,494 Q650,502 617,494 Z" fill="url(#gSilver)"/>
  <rect x="623.8" y="490.7" width="52.2" height="13.8" rx="2" fill="#e6e6e0"/>
  <rect x="631.7" y="502.5" width="36.4" height="15.8" fill="url(#gSilver)"/>
  <path d="M622.8,517 Q649,513 675,517 L675,524 Q649,527 622.8,524 Z" fill="url(#gSilver)"/>
  <rect x="625.8" y="524" width="45.3" height="22" fill="url(#gSilver)"/>
  <path d="M625.8,545.8 L671.1,545.8 L660.2,563.5 L636.6,563.5 Z" fill="url(#gSilver)"/>
  <rect x="624.8" y="534" width="5" height="9.8" rx="1" fill="#b8bcc0"/>
  <rect x="636.6" y="563.5" width="22.7" height="15.8" rx="1.5" fill="#181a1c"/>
  <rect x="641" y="565" width="5" height="13" fill="#3a3c40"/>
</g>

<!-- box transformer -->
<g>
  <path d="M529.5,624.7 L568.2,613.9 L568.2,740.8 L533.1,728.2 Z" fill="#33906f"/>
  <path d="M568.2,613.9 L632,625.6 L629.5,721 L568.2,740.8 Z" fill="#2f886a"/>
  <path d="M531,694 L568.2,700 L568.2,701.5 L531,695.5 Z" fill="#287a5e"/>
  <path d="M568.2,700 L630,691 L630,692.5 L568.2,701.5 Z" fill="#287a5e"/>
  <path d="M580,700 L600,625 M610,625 L625,690" stroke="#5aa88e" stroke-width="0.5" stroke-dasharray="1.5,1.5" fill="none"/>
  <path d="M523.2,622 L568.2,609.8 L636.6,623.4 L634.8,626.5 L568.2,613.6 L524.4,625.8 Z" fill="#2c8064"/>
  <g fill="none" stroke="#c02828" stroke-width="0.9">
    <path d="M544.8,652 L550.2,668 L539.4,668 Z"/><path d="M540,670 H550 V674 H540 Z"/>
    <path d="M604.2,646.5 L610.5,664 L597.9,664 Z"/><path d="M598.5,665.5 H610 V669.5 H598.5 Z"/>
    <path d="M605,652 L602.5,657 L605.5,657 L603,662" stroke-width="0.7"/><path d="M545.5,657 L543,661.5 L546,661.5 L543.5,666" stroke-width="0.7"/>
  </g>
  <path d="M534,627.5 H556" stroke="#1a3a30" stroke-width="1.6" stroke-dasharray="2.5,1"/>
  <path d="M568.2,614 V740.5" stroke="#5aa88e" stroke-width="0.5" opacity="0.7"/>
  <circle cx="612" cy="682" r="2.5" fill="#3a8a72"/>
</g>

<!-- 带开关分接箱 -->
<g>
  <path d="M64.2,745 L87.4,745 L87.4,829.6 L64.2,823 Z" fill="#1a2016"/>
  <path d="M87.4,743 L151.4,744 L151.4,823 L87.4,829.6 Z" fill="#1c2418"/>
  <path d="M87.4,745.5 L101.3,745.5 L101.3,827.5 L87.4,829 Z" fill="#4c7c34"/>
  <rect x="101.3" y="748.6" width="39" height="5.5" fill="#141a12"/>
  <path d="M101.3,754 L113.4,754 L113.4,819 L101.3,820.5 Z" fill="#44742e"/>
  <path d="M101.3,800 L113.4,800 L113.4,801 L101.3,801 Z" fill="#2e5020"/>
  <path d="M113.4,754 L135.6,754 L135.6,817 L113.4,819 Z" fill="#3e6e2a"/>
  <rect x="135.6" y="748.6" width="5.6" height="70" fill="#141a12"/>
  <path d="M101.3,818 L141.2,815.5 L141.2,821 L101.3,824 Z" fill="#4a7a32"/>
  <rect x="100.4" y="745.8" width="40" height="2.8" fill="#e4e8e2"/>
  <rect x="113.4" y="769" width="21.3" height="18.6" fill="#eceee8"/>
  <rect x="115" y="763" width="14" height="6" fill="#161a16"/>
  <circle cx="117.5" cy="766" r="1.4" fill="#e03020"/><circle cx="120.3" cy="766.3" r="1.3" fill="#e8c020"/><circle cx="123" cy="766.6" r="1.3" fill="#30a050"/>
  <rect x="130" y="782" width="3" height="1.5" fill="#333"/>
  <rect x="113.4" y="787.6" width="21.3" height="1.6" fill="#1c2c18"/>
  <path d="M60.5,745.1 L85.7,740.7 L154,742.9 L151.1,745.1 L87,745.5 Z" fill="#2a4a52"/>
</g>

<!-- splice photo -->
<g>
  <rect x="294.1" y="767.5" width="185.1" height="52.9" fill="#e8eae4"/>
  <rect x="294.1" y="808" width="185.1" height="12.4" fill="#eef0ec"/>
  <!-- upper shell -->
  <defs>
    <linearGradient id="gShell" x1="0" y1="0" x2="0" y2="1">
      <stop offset="0" stop-color="#2c3a66"/>
      <stop offset="0.35" stop-color="#9aa6c2"/>
      <stop offset="0.6" stop-color="#b4bed2"/>
      <stop offset="1" stop-color="#3a4874"/>
    </linearGradient>
  </defs>
  <path d="M310.6,774.3 L468.3,775.7 L468.3,792.2 L310.6,789.4 Z" fill="url(#gShell)"/>
  <rect x="360" y="775" width="58" height="13" rx="1.5" fill="#141a2e"/>
  <rect x="362" y="779.5" width="54" height="1.2" fill="#3a4a70"/>
  <g fill="#161e36">
    <path d="M311,775 L341,776 L341,779 L311,778 Z"/><path d="M311,781 L341,781.5 L341,784 L311,783.5 Z"/><path d="M313,786.5 L341,787 L341,789.5 L313,789 Z"/>
    <path d="M440,776 L468,776.5 L468,779.5 L440,779 Z"/><path d="M440,781.5 L468,782 L468,784.5 L440,784 Z"/><path d="M442,787 L467,787.5 L467,790 L442,789.5 Z"/>
  </g>
  <!-- lower shell -->
  <path d="M314.7,794.9 L465.5,795.5 L465.5,818.2 L314.7,817.5 Z" fill="#4a5a86"/>
  <rect x="316" y="795.5" width="148" height="3" fill="#1c2440"/>
  <rect x="316" y="814" width="148" height="3.5" fill="#1c2440"/>
  <!-- cable -->
  <rect x="294.1" y="800.4" width="23" height="11" rx="2" fill="#161a24"/>
  <rect x="462" y="800.4" width="17.2" height="11" rx="2" fill="#161a24"/>
  <rect x="314.7" y="801.8" width="149.5" height="10.9" rx="4" fill="#e6ead4"/>
  <rect x="369.5" y="801.3" width="41.2" height="11.9" fill="#c4c6c8"/>
  <rect x="375" y="802" width="30" height="3" fill="#e4e6e8"/>
  <rect x="369.5" y="801.3" width="1.6" height="11.9" fill="#b03020"/>
  <rect x="409" y="801.3" width="1.6" height="11.9" fill="#b03020"/>
</g>

<!-- ===== LINES ===== -->
<g fill="none" stroke="#282c2e" stroke-width="1.5">
  <!-- top-left substation -->
  <path d="M119.4,112 V161.7"/>
  <path d="M77,161.7 H194"/>
  <path d="M95,161.7 V168.4 M95,196.4 V202.5 M145.5,161.7 V168.4 M145.5,196.4 V202.5"/>
  <path d="M2.4,202.5 H201"/>
  <path d="M153,202.5 V209.6 M187,202.5 V209.6"/>
  <path d="M52.6,202.5 V219.5 M86.4,202.5 V219.5 M119,202.5 V219.5"/>
  <path d="M52.6,251 V703 H145.4 M86.4,251 V274 M119,251 V274"/>

  <!-- center -->
  <path d="M310.7,200 V258.8 M270.4,258.8 H350 M270.4,258.8 V452.6 M218.5,452.6 H312.2"/>

  <!-- right substation -->
  <path d="M610.5,291.7 V340.9"/>
  <path d="M510,340.9 H684.6"/>
  <path d="M585.3,340.9 V347.5 M585.3,376.9 V382.3 M636.6,340.9 V347.5 M636.6,376.9 V382.3"/>
  <path d="M493.3,382.3 H692.3"/>
  <path d="M644.3,382.3 V389.7 M677.7,382.3 V389.7"/>
  <path d="M543.5,382.3 V398.9 M577.1,382.3 V398.9 M609.8,382.3 V398.9"/>
  <path d="M543.5,430.9 V453.7 M577.1,430.9 V453.7"/>
  <path d="M609.8,430.9 V610 H674 V822 H592.5 V788.2"/>

  <path d="M609.8,471 V493" stroke-width="2.4"/>

  <!-- 美式 branches -->
  <path d="M128.5,566 H199.4 V586"/>
  <path d="M128.5,566 V601.8 M145.4,566 V601.8 M162.1,566 V601.8 M178.1,566 V601.8"/>
  <path d="M128.5,607.6 V720.9 H28.5 V851.5 H197.7 V794.3"/>
  <path d="M145.4,607.6 V703"/>
  <path d="M162.1,607.6 V678"/>
  <path d="M178.1,607.6 V727 H365.1 V658.6"/>

  <!-- 欧式 branches -->
  <path d="M348.6,617.7 H398.6"/>
  <path d="M348.6,617.7 V652.3 M365.1,617.7 V652.3 M382,617.7 V652.3 M398.6,617.7 V652.3"/>
  <path d="M348.6,658.6 V704.3 H292.9"/>
  <path d="M382,658.6 V729.4 H462.9"/>
  <path d="M398.6,658.6 V704.3 H462.9"/>

  <!-- bottom-left switch branches -->
  <path d="M197.7,765.1 V750.6 H231.1 V788 M214.3,750.6 V788"/>
  <path d="M197.7,777.4 V788"/>
  <path d="M214.3,794.3 V820.2"/>
  <path d="M231.1,794.3 V850.3 H345.4 M396.9,850.8 H558.6"/>

  <!-- box transformer branches -->
  <path d="M558.6,746.4 H614.6 V766.4"/>
  <path d="M558.6,746.4 V782.4 M575.4,746.4 V782.4 M592.5,746.4 V782.4"/>
  <path d="M558.6,788.2 V851"/>
  <path d="M575.4,788.2 V853.6 H645 M652.5,853.6 H672.8"/>
</g>

<!-- slashes -->
<use href="#slashv" x="109.7" y="113.3"/>
<use href="#slash3" x="12.4" y="192"/>
<use href="#slashv" x="600.6" y="293.4"/>
<use href="#slash3" x="503" y="372"/>

<!-- transformers -->
<use href="#trafo" x="95" y="176.7"/>
<use href="#trafo" x="145.5" y="176.7"/>
<use href="#trafo" x="585.3" y="356.5"/>
<use href="#trafo" x="636.6" y="356.5"/>

<!-- feeders -->
<use href="#feeder" x="52.6" y="219.5"/>
<use href="#feeder" x="86.4" y="219.5"/>
<use href="#feeder" x="119" y="219.5"/>
<use href="#feeder" x="543.5" y="398.9"/>
<use href="#feeder" x="577.1" y="398.9"/>
<use href="#feeder" x="609.8" y="398.9"/>

<!-- triangles -->
<use href="#tri" x="52.6" y="245.5"/>
<use href="#tri" x="86.4" y="245.5"/>
<use href="#tri" x="119" y="245.5"/>
<use href="#tri" x="543.5" y="425.1"/>
<use href="#tri" x="577.1" y="425.1"/>
<use href="#tri" x="609.8" y="425.1"/>
<use href="#tri" x="128.5" y="601.8"/>
<use href="#tri" x="145.4" y="601.8"/>
<use href="#tri" x="162.1" y="601.8"/>
<use href="#tri" x="178.1" y="601.8"/>
<use href="#tri" x="348.6" y="652.3"/>
<use href="#tri" x="365.1" y="652.3"/>
<use href="#tri" x="382" y="652.3"/>
<use href="#tri" x="398.6" y="652.3"/>
<use href="#tri" x="197.7" y="788"/>
<use href="#tri" x="214.3" y="788"/>
<use href="#tri" x="231.1" y="788"/>
<use href="#tri" x="558.6" y="782.4"/>
<use href="#tri" x="575.4" y="782.4"/>
<use href="#tri" x="592.5" y="782.4"/>

<!-- arresters -->
<use href="#arrester" x="199" y="586"/>
<use href="#arrester" x="614.3" y="766.6"/>

<!-- switch on bottom-left branch -->
<g fill="none" stroke="#2a2a2a" stroke-width="1.3">
  <path d="M197.7,765.1 L202.6,772.4"/>
  <circle cx="197.4" cy="774.2" r="2.2"/>
  <path d="M193.2,777.4 H201.9"/>
</g>

<!-- leader lines -->
<g stroke="#4a4a4a" stroke-width="0.8" fill="none">
  <path d="M209.7,508.4 L266.8,550.4"/>
  <path d="M317.8,548.4 L362,524"/>
</g>

<!-- splice symbol -->
<g fill="#f4fafc" stroke="#2a2a2a" stroke-width="1.3">
  <rect x="345.4" y="847.7" width="12" height="6.5" rx="0.8"/>
  <rect x="386" y="847.7" width="10.9" height="6.5" rx="0.8"/>
  <rect x="357.4" y="845.1" width="28.6" height="11.8" rx="1"/>
</g>

<!-- user D arrow -->
<path d="M645,847.8 L652.8,853.6 L645,859.6 Z" fill="#fff" stroke="#2a2a2a" stroke-width="1.4"/>

<!-- ===== TEXT ===== -->
<text transform="translate(75.2,42.3) scale(1.08,1)" style="font-family:'Liberation Sans',sans-serif;font-weight:bold;font-size:22.8px;letter-spacing:1.38px" fill="#111" stroke="#111" stroke-width="0.45">电缆附件应用网络示意图</text>

<g class="t">
  <text x="279.40" y="190.65" textLength="55.40" lengthAdjust="spacingAndGlyphs"><tspan font-size="8.6">后台监控中心</tspan></text>
  <text x="158.40" y="383.85" textLength="41.80" lengthAdjust="spacingAndGlyphs"><tspan font-size="10">35kV</tspan><tspan font-size="8.0">终端</tspan></text>
  <text x="354.20" y="362.70" textLength="65.60" lengthAdjust="spacingAndGlyphs"><tspan font-size="8.5">智能电缆接地箱</tspan></text>
  <text x="508.60" y="333.85" textLength="79.80" lengthAdjust="spacingAndGlyphs"><tspan font-size="10">110kV</tspan><tspan font-size="8.5">复合套管终端</tspan></text>
  <text x="625.40" y="335.85" textLength="59.40" lengthAdjust="spacingAndGlyphs"><tspan font-size="10">110kV</tspan><tspan font-size="8.2">干式终端</tspan></text>
  <text x="132.40" y="561.90" textLength="65.20" lengthAdjust="spacingAndGlyphs"><tspan font-size="8.3">美式电缆分接箱</tspan></text>
  <text x="350.00" y="612.30" textLength="47.00" lengthAdjust="spacingAndGlyphs"><tspan font-size="7.7">欧式分接箱</tspan></text>
  <text font-weight="normal" x="620.40" y="589.30" textLength="70.60" lengthAdjust="spacingAndGlyphs"><tspan font-size="9.8">110kVGIS</tspan><tspan font-size="8.0">电缆终端</tspan></text>
  <text font-weight="normal" x="90.60" y="683.60" textLength="20.40" lengthAdjust="spacingAndGlyphs"><tspan font-size="10.4">10kV</tspan></text>
  <text font-weight="normal" x="84.00" y="693.40" textLength="34.60" lengthAdjust="spacingAndGlyphs"><tspan font-size="8.2">电缆线路</tspan></text>
  <text font-weight="normal" x="296.40" y="699.30" textLength="45.20" lengthAdjust="spacingAndGlyphs"><tspan font-size="10.4">10kV</tspan><tspan font-size="8.6">用户</tspan><tspan font-size="10.4">A</tspan></text>
  <text font-weight="normal" x="408.00" y="699.45" textLength="45.00" lengthAdjust="spacingAndGlyphs"><tspan font-size="10.4">10kV</tspan><tspan font-size="8.6">用户</tspan><tspan font-size="10.4">B</tspan></text>
  <text font-weight="normal" x="408.00" y="724.30" textLength="45.00" lengthAdjust="spacingAndGlyphs"><tspan font-size="10.4">10kV</tspan><tspan font-size="8.6">用户</tspan><tspan font-size="10.4">C</tspan></text>
  <text x="82.80" y="843.50" textLength="51.60" lengthAdjust="spacingAndGlyphs"><tspan font-size="7.9">带开关分接箱</tspan></text>
  <text x="350.40" y="835.85" textLength="70.60" lengthAdjust="spacingAndGlyphs"><tspan font-size="7.9">永锦冷缩中间接头</tspan></text>
  <text x="604.60" y="843.30" textLength="46.00" lengthAdjust="spacingAndGlyphs"><tspan font-size="10.2">10kV</tspan><tspan font-size="8.2">用户</tspan><tspan font-size="10.2">D</tspan></text>
  <text x="541.60" y="473.40" textLength="36.00" lengthAdjust="spacingAndGlyphs"><tspan font-size="11.1">变电站</tspan></text>
  <text x="230.60" y="562.45" textLength="99.40" lengthAdjust="spacingAndGlyphs"><tspan font-size="9.8">内置智能电力电缆可</tspan></text>
  <text x="231.60" y="581.70" textLength="97.20" lengthAdjust="spacingAndGlyphs"><tspan font-size="10.2">分离连接器测温元件</tspan></text>
</g>

</svg>
</body>
</html>
